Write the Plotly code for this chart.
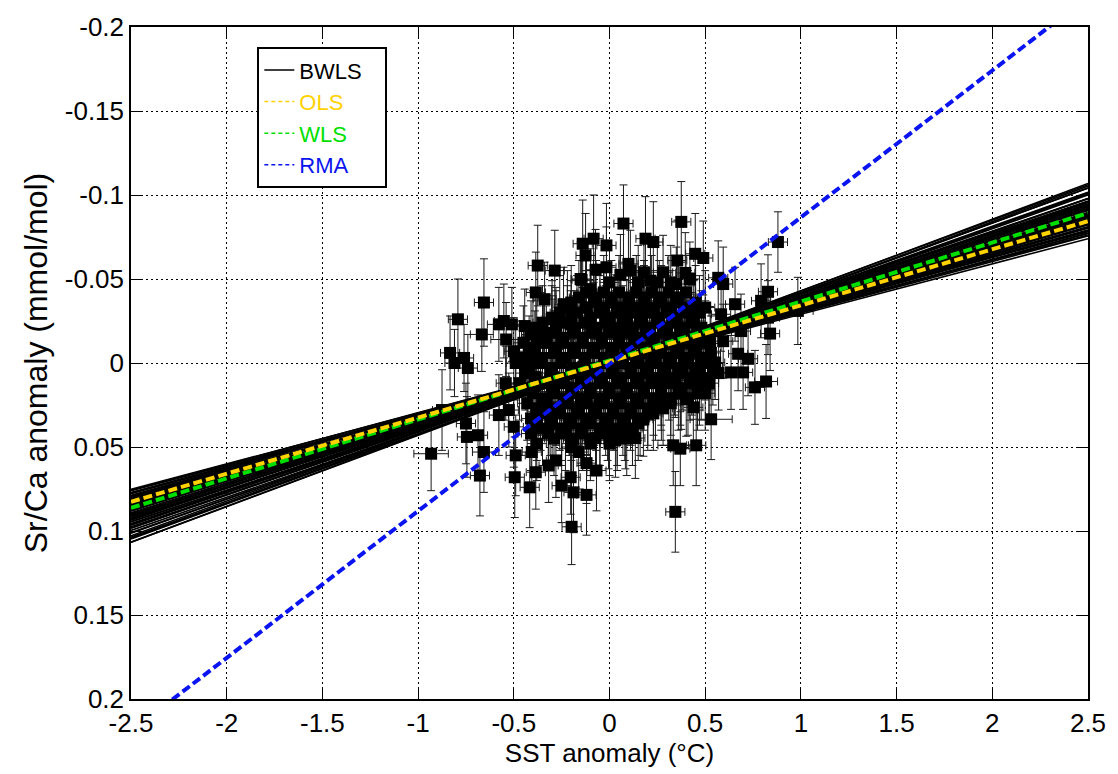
import plotly.graph_objects as go

# ---------------- data ----------------
# outer (individually readable) points: SST anomaly, Sr/Ca anomaly, errors
outer_sst = [-0.792, -0.656, -0.667, -0.833, -0.81, -0.74, -0.375, -0.286, -0.385, -0.339,
             -0.24, -0.146, -0.14, -0.083, -0.125, -0.578, -0.552, -0.51, -0.54, -0.443,
             -0.41, -0.5, -0.302, -0.28, -0.344, -0.448, -0.38, -0.203, -0.125, -0.099,
             0.073, 0.375, -0.016, 0.188, 0.229, 0.354, 0.448, 0.49, 0.099, -0.073,
             -0.016, 0.109, 0.057, 0.396, 0.42, -0.151, 0.214, 0.349, 0.568, 0.594,
             0.828, 0.792, 0.656, 0.5, 0.583, 0.828, 0.839, 0.687, 0.724, 0.594,
             0.526, 0.88, 0.984,
             -0.932, -0.875, -0.75, -0.745, -0.687, -0.656, -0.677, -0.542, -0.578, -0.5,
             -0.49, -0.495, -0.406, -0.417, -0.385, -0.318, -0.25, -0.198, -0.203, -0.188,
             -0.12, -0.198, -0.12, -0.161, -0.28, -0.385, -0.437, -0.526, -0.76,
             0.344, 0.333, 0.37, 0.453, 0.531, -0.068, 0.135, 0.031, -0.005, 0.083,
             -0.073, 0.177, 0.229, 0.438, 0.401, 0.375, 0.5, 0.479, 0.344, 0.552,
             0.635, 0.698, 0.76, 0.818, 0.672, 0.271]
outer_srca = [-0.026, -0.036, -0.017, -0.006, 0.000, 0.003, -0.058, -0.055, -0.042, -0.038,
              -0.035, -0.0495, -0.071, -0.074, -0.064, -0.023, -0.025, -0.023, -0.014, -0.022,
              -0.017, -0.007, -0.026, -0.025, -0.0175, -0.0025, -0.003, -0.023, -0.033, -0.044,
              -0.083, -0.084, -0.070, -0.074, -0.072, -0.061, -0.065, -0.0625, -0.059, -0.0555,
              -0.057, -0.055, -0.0525, -0.0536, -0.050, -0.050, -0.049, -0.047, -0.0507, -0.047,
              -0.0424, -0.037, -0.035, -0.033, -0.029, -0.027, -0.0175, -0.019, -0.0025, -0.013,
              -0.0116, -0.072, -0.031,
              0.054, 0.028, 0.036, 0.044, 0.043, 0.053, 0.067, 0.012, 0.031, 0.038,
              0.055, 0.068, 0.053, 0.074, 0.065, 0.061, 0.073, 0.050, 0.068, 0.077,
              0.0785, 0.0975, 0.0596, 0.053, 0.058, 0.0086, 0.0003, 0.028, -0.003,
              0.0886, 0.049, 0.051, 0.049, 0.0335, 0.064, 0.0447, 0.046, 0.041, 0.041,
              0.0447, 0.0335, 0.030, 0.0264, 0.0216, 0.0175, 0.018, 0.012, 0.0104, -0.0003,
              0.0056, 0.0056, 0.0145, 0.011, -0.0055, 0.024]
outer_sst_err = [0.05, 0.05, 0.06, 0.05, 0.05, 0.05, 0.05, 0.05, 0.05, 0.06,
                 0.05, 0.05, 0.05, 0.05, 0.05, 0.06, 0.05, 0.05, 0.08, 0.05,
                 0.05, 0.05, 0.05, 0.05, 0.05, 0.05, 0.05, 0.05, 0.05, 0.05,
                 0.05, 0.05, 0.05, 0.05, 0.05, 0.05, 0.05, 0.05, 0.05, 0.05,
                 0.05, 0.05, 0.05, 0.05, 0.05, 0.05, 0.05, 0.05, 0.05, 0.05,
                 0.05, 0.05, 0.05, 0.05, 0.05, 0.06, 0.05, 0.05, 0.05, 0.05,
                 0.05, 0.05, 0.08,
                 0.09, 0.05, 0.05, 0.05, 0.05, 0.06, 0.05, 0.05, 0.05, 0.05,
                 0.05, 0.05, 0.05, 0.05, 0.05, 0.05, 0.05, 0.05, 0.05, 0.05,
                 0.05, 0.05, 0.05, 0.05, 0.05, 0.05, 0.05, 0.05, 0.05,
                 0.05, 0.08, 0.05, 0.05, 0.11, 0.05, 0.05, 0.05, 0.05, 0.05,
                 0.05, 0.05, 0.05, 0.05, 0.05, 0.05, 0.05, 0.05, 0.05, 0.05,
                 0.05, 0.05, 0.05, 0.06, 0.05, 0.05]
outer_srca_err = [0.024, 0.026, 0.022, 0.022, 0.020, 0.020, 0.024, 0.024, 0.024, 0.022,
                  0.022, 0.024, 0.026, 0.026, 0.025, 0.022, 0.022, 0.022, 0.022, 0.022,
                  0.020, 0.020, 0.020, 0.020, 0.020, 0.020, 0.020, 0.020, 0.022, 0.024,
                  0.023, 0.024, 0.025, 0.025, 0.024, 0.024, 0.024, 0.022, 0.024, 0.024,
                  0.024, 0.024, 0.024, 0.024, 0.022, 0.022, 0.022, 0.022, 0.022, 0.022,
                  0.022, 0.022, 0.022, 0.022, 0.022, 0.022, 0.022, 0.022, 0.022, 0.022,
                  0.022, 0.018, 0.020,
                  0.022, 0.024, 0.024, 0.024, 0.024, 0.024, 0.024, 0.022, 0.024, 0.024,
                  0.024, 0.024, 0.024, 0.024, 0.022, 0.022, 0.022, 0.024, 0.022, 0.024,
                  0.024, 0.0225, 0.024, 0.022, 0.022, 0.020, 0.020, 0.022, 0.020,
                  0.024, 0.024, 0.022, 0.024, 0.024, 0.024, 0.024, 0.022, 0.022, 0.022,
                  0.022, 0.022, 0.022, 0.022, 0.022, 0.022, 0.022, 0.022, 0.022, 0.022,
                  0.022, 0.022, 0.022, 0.022, 0.022, 0.022]

# dense core of the cloud (estimated positions, row by row)
core_sst = [0.00, 0.15, 0.25, 0.32,
            0.18, 0.28,
            -0.12, -0.03, 0.05, 0.14, 0.22, 0.31, 0.40,
            -0.16, -0.07, 0.01, 0.10, 0.18, 0.26, 0.35,
            -0.20, -0.08, 0.01, 0.10, 0.18, 0.27, 0.36, 0.45,
            -0.22, -0.12, -0.03, 0.06, 0.15, 0.23, 0.32, 0.41,
            -0.26, -0.17, -0.05, 0.04, 0.12, 0.21, 0.30, 0.39, 0.47,
            -0.30, -0.20, -0.10, 0.00, 0.09, 0.17, 0.26, 0.35, 0.44,
            -0.35, -0.22, -0.13, -0.02, 0.07, 0.16, 0.25, 0.33, 0.43,
            -0.40, -0.28, -0.18, -0.07, 0.03, 0.12, 0.21, 0.30, 0.39, 0.48,
            -0.30, -0.19, -0.09, 0.00, 0.09, 0.19, 0.28, 0.37, 0.46,
            -0.38, -0.25, -0.14, -0.04, 0.05, 0.14, 0.23, 0.32, 0.42, 0.50,
            -0.45, -0.33, -0.24, -0.14, -0.04, 0.05, 0.13, 0.22, 0.31, 0.40, 0.49,
            -0.39, -0.28, -0.19, -0.09, 0.01, 0.09, 0.18, 0.26, 0.36, 0.45,
            -0.42, -0.29, -0.18, -0.08, 0.02, 0.10, 0.18, 0.27, 0.35, 0.44, 0.53,
            -0.47, -0.35, -0.23, -0.13, -0.03, 0.06, 0.14, 0.22, 0.31, 0.39, 0.48,
            -0.49, -0.36, -0.25, -0.13, -0.03, 0.07, 0.15, 0.24, 0.32, 0.41, 0.50,
            -0.42, -0.30, -0.19, -0.08, 0.02, 0.11, 0.19, 0.28, 0.36, 0.45, 0.54,
            -0.44, -0.31, -0.20, -0.09, 0.01, 0.11, 0.20, 0.29, 0.38, 0.47, 0.57,
            -0.39, -0.26, -0.14, -0.04, 0.06, 0.15, 0.25, 0.34, 0.43, 0.52,
            -0.47, -0.35, -0.24, -0.15, -0.05, 0.04, 0.14, 0.22, 0.31, 0.42, 0.52,
            -0.41, -0.30, -0.20, -0.10, 0.00, 0.09, 0.18, 0.27, 0.37, 0.47,
            -0.40, -0.29, -0.19, -0.10, 0.00, 0.09, 0.18, 0.27, 0.36, 0.46,
            -0.35, -0.24, -0.15, -0.05, 0.05, 0.14, 0.23, 0.32, 0.41,
            -0.43, -0.33, -0.22, -0.12, -0.03, 0.06, 0.15, 0.24, 0.32,
            -0.38, -0.28, -0.17, -0.08, 0.02, 0.11, 0.20, 0.28,
            -0.36, -0.26, -0.16, -0.07, 0.02, 0.11, 0.20,
            -0.41, -0.31, -0.21, -0.12, -0.02, 0.07, 0.16,
            -0.38, -0.30, -0.20, -0.10, -0.01, 0.08, 0.15,
            -0.35, -0.25, -0.15, -0.05, 0.04, 0.12,
            -0.41, -0.32, -0.23, -0.14, -0.05, 0.04,
            -0.29, -0.19, -0.10, 0.00, 0.09,
            -0.38, -0.20, -0.10, 0.00]
core_srca = [-0.048, -0.048, -0.048, -0.048,
             -0.054, -0.054,
             -0.042, -0.042, -0.042, -0.042, -0.042, -0.042, -0.042,
             -0.039, -0.039, -0.039, -0.039, -0.039, -0.039, -0.039,
             -0.036, -0.036, -0.036, -0.036, -0.036, -0.036, -0.036, -0.036,
             -0.033, -0.033, -0.033, -0.033, -0.033, -0.033, -0.033, -0.033,
             -0.030, -0.030, -0.030, -0.030, -0.030, -0.030, -0.030, -0.030, -0.030,
             -0.027, -0.027, -0.027, -0.027, -0.027, -0.027, -0.027, -0.027, -0.027,
             -0.024, -0.024, -0.024, -0.024, -0.024, -0.024, -0.024, -0.024, -0.024,
             -0.021, -0.021, -0.021, -0.021, -0.021, -0.021, -0.021, -0.021, -0.021, -0.021,
             -0.018, -0.018, -0.018, -0.018, -0.018, -0.018, -0.018, -0.018, -0.018,
             -0.015, -0.015, -0.015, -0.015, -0.015, -0.015, -0.015, -0.015, -0.015, -0.015,
             -0.012, -0.012, -0.012, -0.012, -0.012, -0.012, -0.012, -0.012, -0.012, -0.012, -0.012,
             -0.009, -0.009, -0.009, -0.009, -0.009, -0.009, -0.009, -0.009, -0.009, -0.009,
             -0.006, -0.006, -0.006, -0.006, -0.006, -0.006, -0.006, -0.006, -0.006, -0.006, -0.006,
             -0.003, -0.003, -0.003, -0.003, -0.003, -0.003, -0.003, -0.003, -0.003, -0.003, -0.003,
             0.000, 0.000, 0.000, 0.000, 0.000, 0.000, 0.000, 0.000, 0.000, 0.000, 0.000,
             0.003, 0.003, 0.003, 0.003, 0.003, 0.003, 0.003, 0.003, 0.003, 0.003, 0.003,
             0.006, 0.006, 0.006, 0.006, 0.006, 0.006, 0.006, 0.006, 0.006, 0.006, 0.006,
             0.009, 0.009, 0.009, 0.009, 0.009, 0.009, 0.009, 0.009, 0.009, 0.009,
             0.012, 0.012, 0.012, 0.012, 0.012, 0.012, 0.012, 0.012, 0.012, 0.012, 0.012,
             0.015, 0.015, 0.015, 0.015, 0.015, 0.015, 0.015, 0.015, 0.015, 0.015,
             0.018, 0.018, 0.018, 0.018, 0.018, 0.018, 0.018, 0.018, 0.018, 0.018,
             0.021, 0.021, 0.021, 0.021, 0.021, 0.021, 0.021, 0.021, 0.021,
             0.024, 0.024, 0.024, 0.024, 0.024, 0.024, 0.024, 0.024, 0.024,
             0.027, 0.027, 0.027, 0.027, 0.027, 0.027, 0.027, 0.027,
             0.030, 0.030, 0.030, 0.030, 0.030, 0.030, 0.030,
             0.033, 0.033, 0.033, 0.033, 0.033, 0.033, 0.033,
             0.036, 0.036, 0.036, 0.036, 0.036, 0.036, 0.036,
             0.039, 0.039, 0.039, 0.039, 0.039, 0.039,
             0.042, 0.042, 0.042, 0.042, 0.042, 0.042,
             0.045, 0.045, 0.045, 0.045, 0.045,
             0.048, 0.048, 0.048, 0.048]
core_sst_err = 0.05
core_srca_err = 0.022

# fitted regressions  (Sr/Ca = intercept + slope * SST)
ols_fit = {"slope": -0.0334, "intercept": -0.0009}
wls_fit = {"slope": -0.0351, "intercept": -0.0015}
rma_fit = {"slope": -0.0874, "intercept": 0.0007}
bwls_slopes = [-0.0300, -0.0303, -0.0306, -0.0308, -0.0310, -0.0312, -0.0314, -0.0316,
               -0.0318, -0.0320, -0.0322, -0.0324, -0.0326, -0.0327, -0.0329, -0.0331,
               -0.0332, -0.0334, -0.0335, -0.0337, -0.0338, -0.0340, -0.0341, -0.0343,
               -0.0344, -0.0346, -0.0347, -0.0349, -0.0350, -0.0352, -0.0353, -0.0355,
               -0.0356, -0.0358, -0.0360, -0.0361, -0.0363, -0.0365, -0.0367, -0.0369,
               -0.0371, -0.0373, -0.0375, -0.0377, -0.0379, -0.0381, -0.0384, -0.0386,
               -0.0389, -0.0392, -0.0395, -0.0398, -0.0402, -0.0406, -0.0410, -0.0414,
               -0.0418, -0.0421, -0.0424, -0.0427]
bwls_intercepts = [0.0010, -0.0005, 0.0008, -0.0012, 0.0003, -0.0008, 0.0012, -0.0002,
                   0.0006, -0.0010, 0.0002, -0.0015, 0.0009, -0.0004, 0.0011, -0.0009,
                   0.0004, -0.0013, 0.0007, -0.0001, 0.0010, -0.0007, 0.0002, -0.0011,
                   0.0006, -0.0003, 0.0009, -0.0006, 0.0001, -0.0008, -0.0002, 0.0004,
                   0.0013, -0.0014, 0.0005, -0.0006, 0.0011, -0.0003, 0.0007, -0.0010,
                   0.0000, 0.0012, -0.0009, 0.0003, -0.0012, 0.0008, -0.0004, 0.0010,
                   -0.0007, 0.0002, 0.0009, -0.0011, 0.0005, -0.0002, 0.0012, -0.0006,
                   0.0003, -0.0009, 0.0007, -0.0001]
x_line = [-2.5, 2.5]

x_tick_vals = [-2.5, -2, -1.5, -1, -0.5, 0, 0.5, 1, 1.5, 2, 2.5]
x_tick_text = ["-2.5", "-2", "-1.5", "-1", "-0.5", "0", "0.5", "1", "1.5", "2", "2.5"]
y_tick_vals = [-0.2, -0.15, -0.1, -0.05, 0, 0.05, 0.1, 0.15, 0.2]
y_tick_text = ["-0.2", "-0.15", "-0.1", "-0.05", "0", "0.05", "0.1", "0.15", "0.2"]

# ---------------- figure ----------------
FONT = "Liberation Sans, Arial, Helvetica, sans-serif"
fig = go.Figure()

all_sst = outer_sst + core_sst
all_srca = outer_srca + core_srca
all_sst_err = outer_sst_err + [core_sst_err] * len(core_sst)
all_srca_err = outer_srca_err + [core_srca_err] * len(core_srca)

fig.add_trace(go.Scatter(
    x=all_sst, y=all_srca, mode="markers", showlegend=False,
    marker=dict(symbol="square", size=12, color="black", line=dict(width=0)),
    error_y=dict(type="data", array=all_srca_err, color="#1a1a1a", thickness=1, width=4),
    error_x=dict(type="data", array=all_sst_err, color="#1a1a1a", thickness=1, width=4),
))

# BWLS bundle
bx, by = [], []
for s, a in zip(bwls_slopes, bwls_intercepts):
    for xv in x_line:
        bx.append(xv)
        by.append(a + s * xv)
    bx.append(None)
    by.append(None)
fig.add_trace(go.Scatter(x=bx, y=by, mode="lines", showlegend=False,
                         line=dict(color="black", width=1.6)))

COLORS = {"OLS": "#FFD200", "WLS": "#00E000", "RMA": "#0A14F0"}


def fit_line(fit, name):
    ys = [fit["intercept"] + fit["slope"] * xv for xv in x_line]
    fig.add_trace(go.Scatter(
        x=x_line, y=ys, mode="lines", showlegend=False,
        line=dict(color=COLORS[name], width=4, dash="9px,4px")))


fit_line(wls_fit, "WLS")
fit_line(ols_fit, "OLS")
fit_line(rma_fit, "RMA")

# legend-only entries (thin symbols, coloured text)
fig.add_trace(go.Scatter(x=[None], y=[None], mode="lines", name="BWLS\u00a0\u00a0\u00a0",
                         line=dict(color="black", width=1.5)))
for nm in ["OLS", "WLS", "RMA"]:
    fig.add_trace(go.Scatter(
        x=[None], y=[None], mode="lines",
        name=f"<span style='color:{COLORS[nm]}'>{nm}</span>",
        line=dict(color=COLORS[nm], width=1.5, dash="4px,3px")))

axis_common = dict(
    showline=True, linecolor="black", linewidth=1.5, mirror="ticks",
    ticks="inside", ticklen=10, tickcolor="black", tickwidth=1,
    showgrid=True, gridcolor="black", gridwidth=1, griddash="2px,3px",
    zeroline=False, tickfont=dict(family=FONT, size=26, color="black"),
)

fig.update_layout(
    width=1118, height=774,
    margin=dict(l=131, r=27, t=25, b=74),
    paper_bgcolor="white", plot_bgcolor="white",
    font=dict(family=FONT, color="black"),
    xaxis=dict(range=[-2.5, 2.5], tickvals=x_tick_vals, ticktext=x_tick_text,
               title=dict(text="SST anomaly (°C)", font=dict(size=26), standoff=6),
               **axis_common),
    yaxis=dict(range=[0.2, -0.2], tickvals=y_tick_vals, ticktext=y_tick_text,
               title=dict(text="Sr/Ca anomaly (mmol/mol)", font=dict(size=32), standoff=8),
               **axis_common),
    legend=dict(x=0.132, y=0.970, xanchor="left", yanchor="top",
                bgcolor="white", bordercolor="black", borderwidth=2,
                font=dict(family=FONT, size=22, color="black"),
                itemwidth=30, tracegroupgap=0),
)

fig.write_html("out.html")
